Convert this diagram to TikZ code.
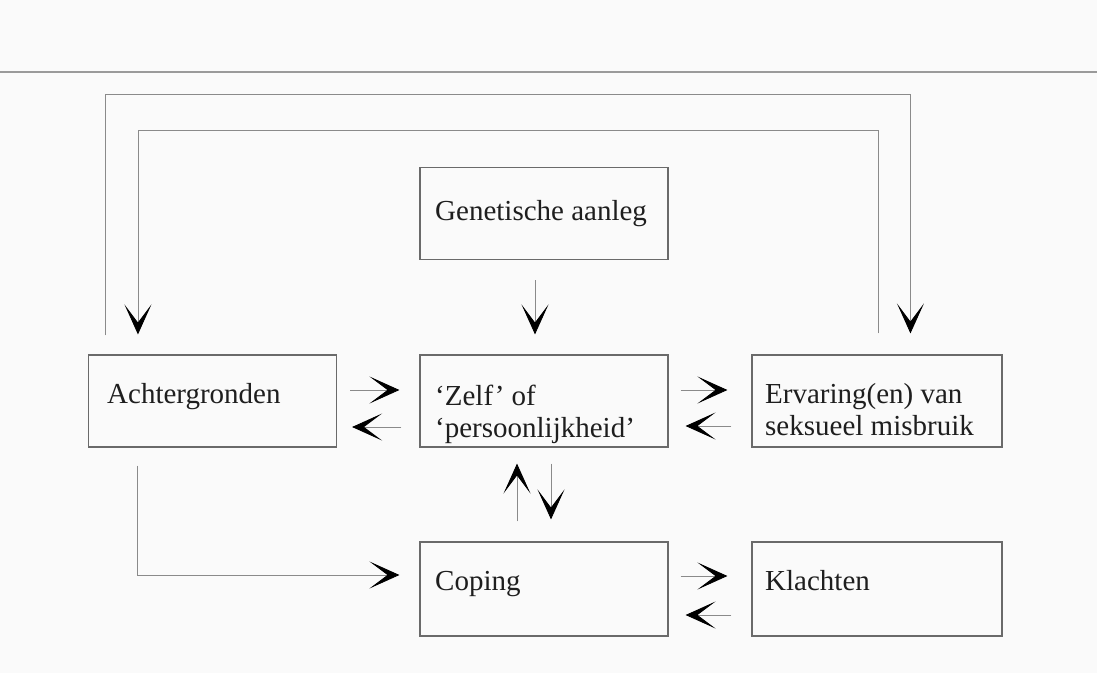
\documentclass[tikz,border=0pt]{standalone}
\usepackage{fontspec}
\setmainfont{Liberation Serif}
\usetikzlibrary{arrows.meta,calc}
\definecolor{bg}{HTML}{FAFAFA}
\definecolor{boxcol}{HTML}{6A6A6A}
\definecolor{shaft}{HTML}{8A8A8A}
\definecolor{rulecol}{HTML}{9A9A9A}
\definecolor{txt}{HTML}{1E1E1E}
\begin{document}
\begin{tikzpicture}[x=1pt,y=-1pt,
  boxnode/.style={draw=boxcol,line width=1.1pt,minimum width=248pt,minimum height=92pt,inner sep=0pt},
  lbl/.style={anchor=base west,inner sep=0pt,text=txt,font=\fontsize{29}{32}\selectfont},
  conn/.style={draw=shaft,line width=0.9pt,-{Stealth[length=30pt,width=27pt,inset=18pt,black]}}]
\fill[bg] (0,0) rectangle (1097,673);
\useasboundingbox (0,0) rectangle (1097,673);
\draw[rulecol,line width=1.6pt] (0,72) -- (1097,72);
\coordinate (otop) at (0,94);
\coordinate (itop) at (0,130);
% boxes
\node[boxnode] (gen) at (544,213.5) {};
\node[boxnode] (ach) at (212.5,401) {};
\node[boxnode] (zelf) at (544,401) {};
\node[boxnode,minimum width=250pt] (erv) at (877,401) {};
\node[boxnode,minimum height=94pt] (cop) at (544,589) {};
\node[boxnode,minimum width=250pt,minimum height=94pt] (kla) at (877,589) {};
% texts
\node[lbl] (genT) at (435,220) {Genetische aanleg};
\node[lbl] (achT) at (107,403) {Achtergronden};
\node[lbl] (zelfT) at (435,405) {\begin{tabular}[t]{@{}l@{}}‘Zelf’ of\\ ‘persoonlijkheid’\end{tabular}};
\node[lbl] (ervT) at (765,403) {\begin{tabular}[t]{@{}l@{}}Ervaring(en) van\\ seksueel misbruik\end{tabular}};
\node[lbl] (copT) at (435,590) {Coping};
\node[lbl] (klaT) at (765,590) {Klachten};
% loops
\coordinate (oL) at ([xshift=17pt,yshift=19pt]ach.north west);
\coordinate (oR) at ([xshift=159pt,yshift=21pt]erv.north west);
\draw[conn] (oL) -- (oL |- otop) -- (oR |- otop) -- (oR);
\coordinate (iR) at ([xshift=127pt,yshift=21pt]erv.north west);
\coordinate (iL) at ([xshift=50pt,yshift=20pt]ach.north west);
\draw[conn] (iR) -- (iR |- itop) -- (iL |- itop) -- (iL);
% genetische -> zelf
\draw[conn] ([xshift=-9pt,yshift=-20pt]gen.south) -- ([xshift=-9pt,yshift=20pt]zelf.north);
% ach <-> zelf
\draw[conn] ([shift={(13pt,11pt)}]ach.east) -- ([shift={(-20pt,11pt)}]zelf.west);
\draw[conn] ([shift={(-18pt,-26pt)}]zelf.west) -- ([shift={(15pt,-26pt)}]ach.east);
% zelf <-> erv
\draw[conn] ([shift={(12pt,11pt)}]zelf.east) -- ([shift={(-24pt,11pt)}]erv.west);
\draw[conn] ([shift={(-20pt,-25pt)}]erv.west) -- ([shift={(17pt,-25pt)}]zelf.east);
% coping <-> klachten
\draw[conn] ([shift={(12pt,13pt)}]cop.east) -- ([shift={(-24pt,13pt)}]kla.west);
\draw[conn] ([shift={(-20pt,-26pt)}]kla.west) -- ([shift={(17pt,-26pt)}]cop.east);
% zelf <-> coping
\draw[conn] ([xshift=-27pt,yshift=20pt]cop.north) -- ([xshift=-27pt,yshift=-16pt]zelf.south);
\draw[conn] ([xshift=7pt,yshift=-16pt]zelf.south) -- ([xshift=7pt,yshift=22pt]cop.north);
% ach -> coping
\coordinate (aS) at ([xshift=49pt,yshift=-18pt]ach.south west);
\coordinate (cW) at ([xshift=-20pt,yshift=14pt]cop.west);
\draw[conn] (aS) |- (cW);
\end{tikzpicture}
\end{document}
